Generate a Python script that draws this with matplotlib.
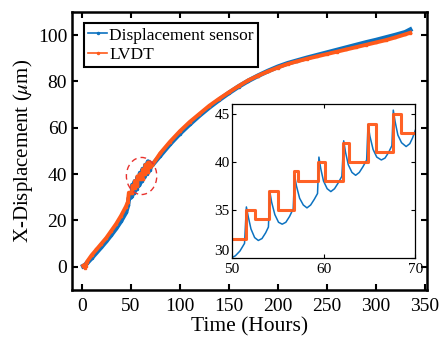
import numpy as np
import matplotlib
matplotlib.use("Agg")
import matplotlib.pyplot as plt
from matplotlib.patches import Ellipse
from matplotlib.lines import Line2D

plt.rcParams["font.family"] = ["Liberation Serif", "DejaVu Serif"]
plt.rcParams["mathtext.fontset"] = "stix"

BLUE = "#0c72c0"
ORANGE = "#ff5a1a"

# ---- main curve (hours, um) ----
sensor_t_pre = [1.5, 3, 5, 10, 15, 20, 25, 30, 35, 40, 45, 47, 48]
sensor_v_pre = [0.3, 0.6, 1.5, 3.8, 6.2, 8.6, 11.1, 13.8, 16.6, 19.8, 23.5, 26.5, 29.6]
sensor_t_post = [72, 80, 90, 100, 110, 120, 130, 140, 150, 160, 170, 180, 190,
                 200, 210, 220, 230, 240, 250, 260, 270, 280, 290, 300, 310,
                 320, 330, 335]
sensor_v_post = [44.0, 48.0, 53.0, 57.5, 61.5, 65.3, 68.8, 72.0, 75.0, 77.8,
                 80.3, 82.5, 84.5, 86.3, 87.8, 89.0, 90.2, 91.3, 92.4, 93.5,
                 94.6, 95.7, 96.8, 97.8, 98.9, 100.0, 101.2, 102.3]

lvdt_t_pre = [1.5, 3, 4, 5, 10, 15, 20, 25, 30, 35, 40, 45, 47, 48]
lvdt_v_pre = [0.5, -0.3, 0.5, 2.0, 5.0, 7.5, 10.0, 12.5, 15.5, 18.5, 22.0, 26.0, 28.0, 32.0]
lvdt_t_post = [72, 80, 90, 100, 110, 120, 130, 140, 150, 160, 170, 180, 190,
               200, 210, 220, 230, 240, 250, 260, 270, 280, 290, 300, 310,
               320, 330, 335]
lvdt_v_post = [44.0, 49.0, 54.0, 58.5, 62.5, 66.0, 69.5, 72.5, 75.3, 78.0,
               80.5, 82.5, 84.3, 86.0, 87.5, 88.7, 89.8, 90.8, 91.8, 92.8,
               93.8, 94.8, 95.8, 96.8, 97.8, 99.0, 100.3, 101.0]

# ---- zoomed window 50-70 h ----
sensor_in_t = [50.0, 50.4, 50.9, 51.4,
               51.6, 51.8, 52.1, 52.5, 52.9, 53.3, 53.7, 54.0,
               54.15, 54.35, 54.7, 55.1, 55.5, 55.9, 56.3, 56.7,
               56.85, 57.05, 57.4, 57.8, 58.2, 58.6, 59.0, 59.35,
               59.5, 59.7, 60.0, 60.4, 60.8, 61.2, 61.6, 62.0,
               62.2, 62.4, 62.7, 63.1, 63.5, 63.9, 64.3, 64.7,
               64.85, 65.05, 65.4, 65.8, 66.3, 66.7, 67.1, 67.45,
               67.6, 67.8, 68.1, 68.5, 69.0, 69.4, 69.7, 70.0]
sensor_in_v = [30.0, 30.2, 30.7, 31.5,
               35.3, 34.3, 33.0, 32.1, 31.8, 32.0, 32.6, 33.2,
               36.9, 35.8, 34.5, 33.7, 33.5, 33.7, 34.3, 35.1,
               38.6, 37.5, 36.2, 35.5, 35.2, 35.5, 36.1, 36.7,
               40.5, 39.3, 38.0, 37.2, 36.9, 37.2, 37.8, 38.5,
               42.2, 41.0, 39.7, 38.9, 38.6, 38.9, 39.5, 40.2,
               43.9, 42.7, 41.3, 40.5, 40.2, 40.4, 41.0, 41.7,
               45.4, 44.2, 42.8, 42.0, 41.6, 41.9, 42.5, 43.3]

lvdt_in_t = [50, 51.6, 52.55, 54.1, 55.0, 56.75, 57.25, 59.45, 60.15, 62.1,
             62.75, 64.8, 65.7, 67.55, 68.4, 70]
lvdt_in_v = [32, 35, 34, 37, 35, 39, 38, 40, 38, 42, 40, 44, 41, 45, 43, 43]

# step-expanded lvdt for the main view
lvdt_step_t, lvdt_step_v = [], []
for i in range(len(lvdt_in_t) - 1):
    lvdt_step_t += [lvdt_in_t[i], lvdt_in_t[i + 1]]
    lvdt_step_v += [lvdt_in_v[i], lvdt_in_v[i]]

sensor_t = sensor_t_pre + sensor_in_t + sensor_t_post
sensor_v = sensor_v_pre + sensor_in_v + sensor_v_post
lvdt_t = lvdt_t_pre + lvdt_step_t + lvdt_t_post
lvdt_v = lvdt_v_pre + lvdt_step_v + lvdt_v_post

fig = plt.figure(figsize=(4.43, 3.4), dpi=100)
ax = fig.add_axes([0.1625, 0.147, 0.801, 0.818])

ax.plot(sensor_t, sensor_v, color=BLUE, lw=3.4, marker=".", ms=3)
ax.plot(lvdt_t, lvdt_v, color=ORANGE, lw=2.8, marker="s", ms=2)

ax.add_patch(Ellipse((61, 39.2), 31, 16, fill=False, ls=(0, (4, 3)),
                     color="#e8322e", lw=1.0, zorder=5))

ax.set_xlim(-10, 352)
ax.set_ylim(-10, 110)
ax.set_xticks(np.arange(0, 351, 50))
ax.set_yticks(np.arange(0, 101, 20))
ax.tick_params(direction="in", top=True, right=True, labelsize=14,
               length=4, width=1.5)
ax.tick_params(axis="x", pad=6)
for s in ax.spines.values():
    s.set_linewidth(1.8)
ax.set_xlabel("Time (Hours)", fontsize=15.5, labelpad=1)
ax.set_ylabel(r"X-Displacement ($\mu$m)", fontsize=15, labelpad=2)

handles = [Line2D([], [], color=BLUE, lw=1.2, marker=".", ms=3),
           Line2D([], [], color=ORANGE, lw=1.2, marker=".", ms=3)]
leg = ax.legend(handles, ["Displacement sensor", "LVDT"], loc="upper left",
                bbox_to_anchor=(0.034, 0.96), borderaxespad=0, fontsize=12.5,
                fancybox=False, framealpha=1, edgecolor="black",
                handlelength=1.1, handletextpad=0.1, borderpad=0.25,
                labelspacing=0.2)
leg.get_frame().set_linewidth(1.5)

# inset
axi = fig.add_axes([0.523, 0.242, 0.4145, 0.451])
axi.plot(sensor_in_t, sensor_in_v, color=BLUE, lw=1.1)
axi.step(lvdt_in_t, lvdt_in_v, where="post", color=ORANGE, lw=2.2,
         alpha=0.95)
axi.set_xlim(50, 70)
axi.set_ylim(30, 46)
axi.set_xticks([50, 60, 70])
axi.set_yticks([30, 35, 40, 45])
axi.tick_params(direction="in", top=True, right=True, labelsize=11,
                length=3, width=0.8, pad=1.5)
axi.tick_params(axis="x", pad=4)
axi.get_yticklabels()[0].set_verticalalignment("bottom")
for s in axi.spines.values():
    s.set_linewidth(0.9)

fig.savefig("out.png", dpi=100)
